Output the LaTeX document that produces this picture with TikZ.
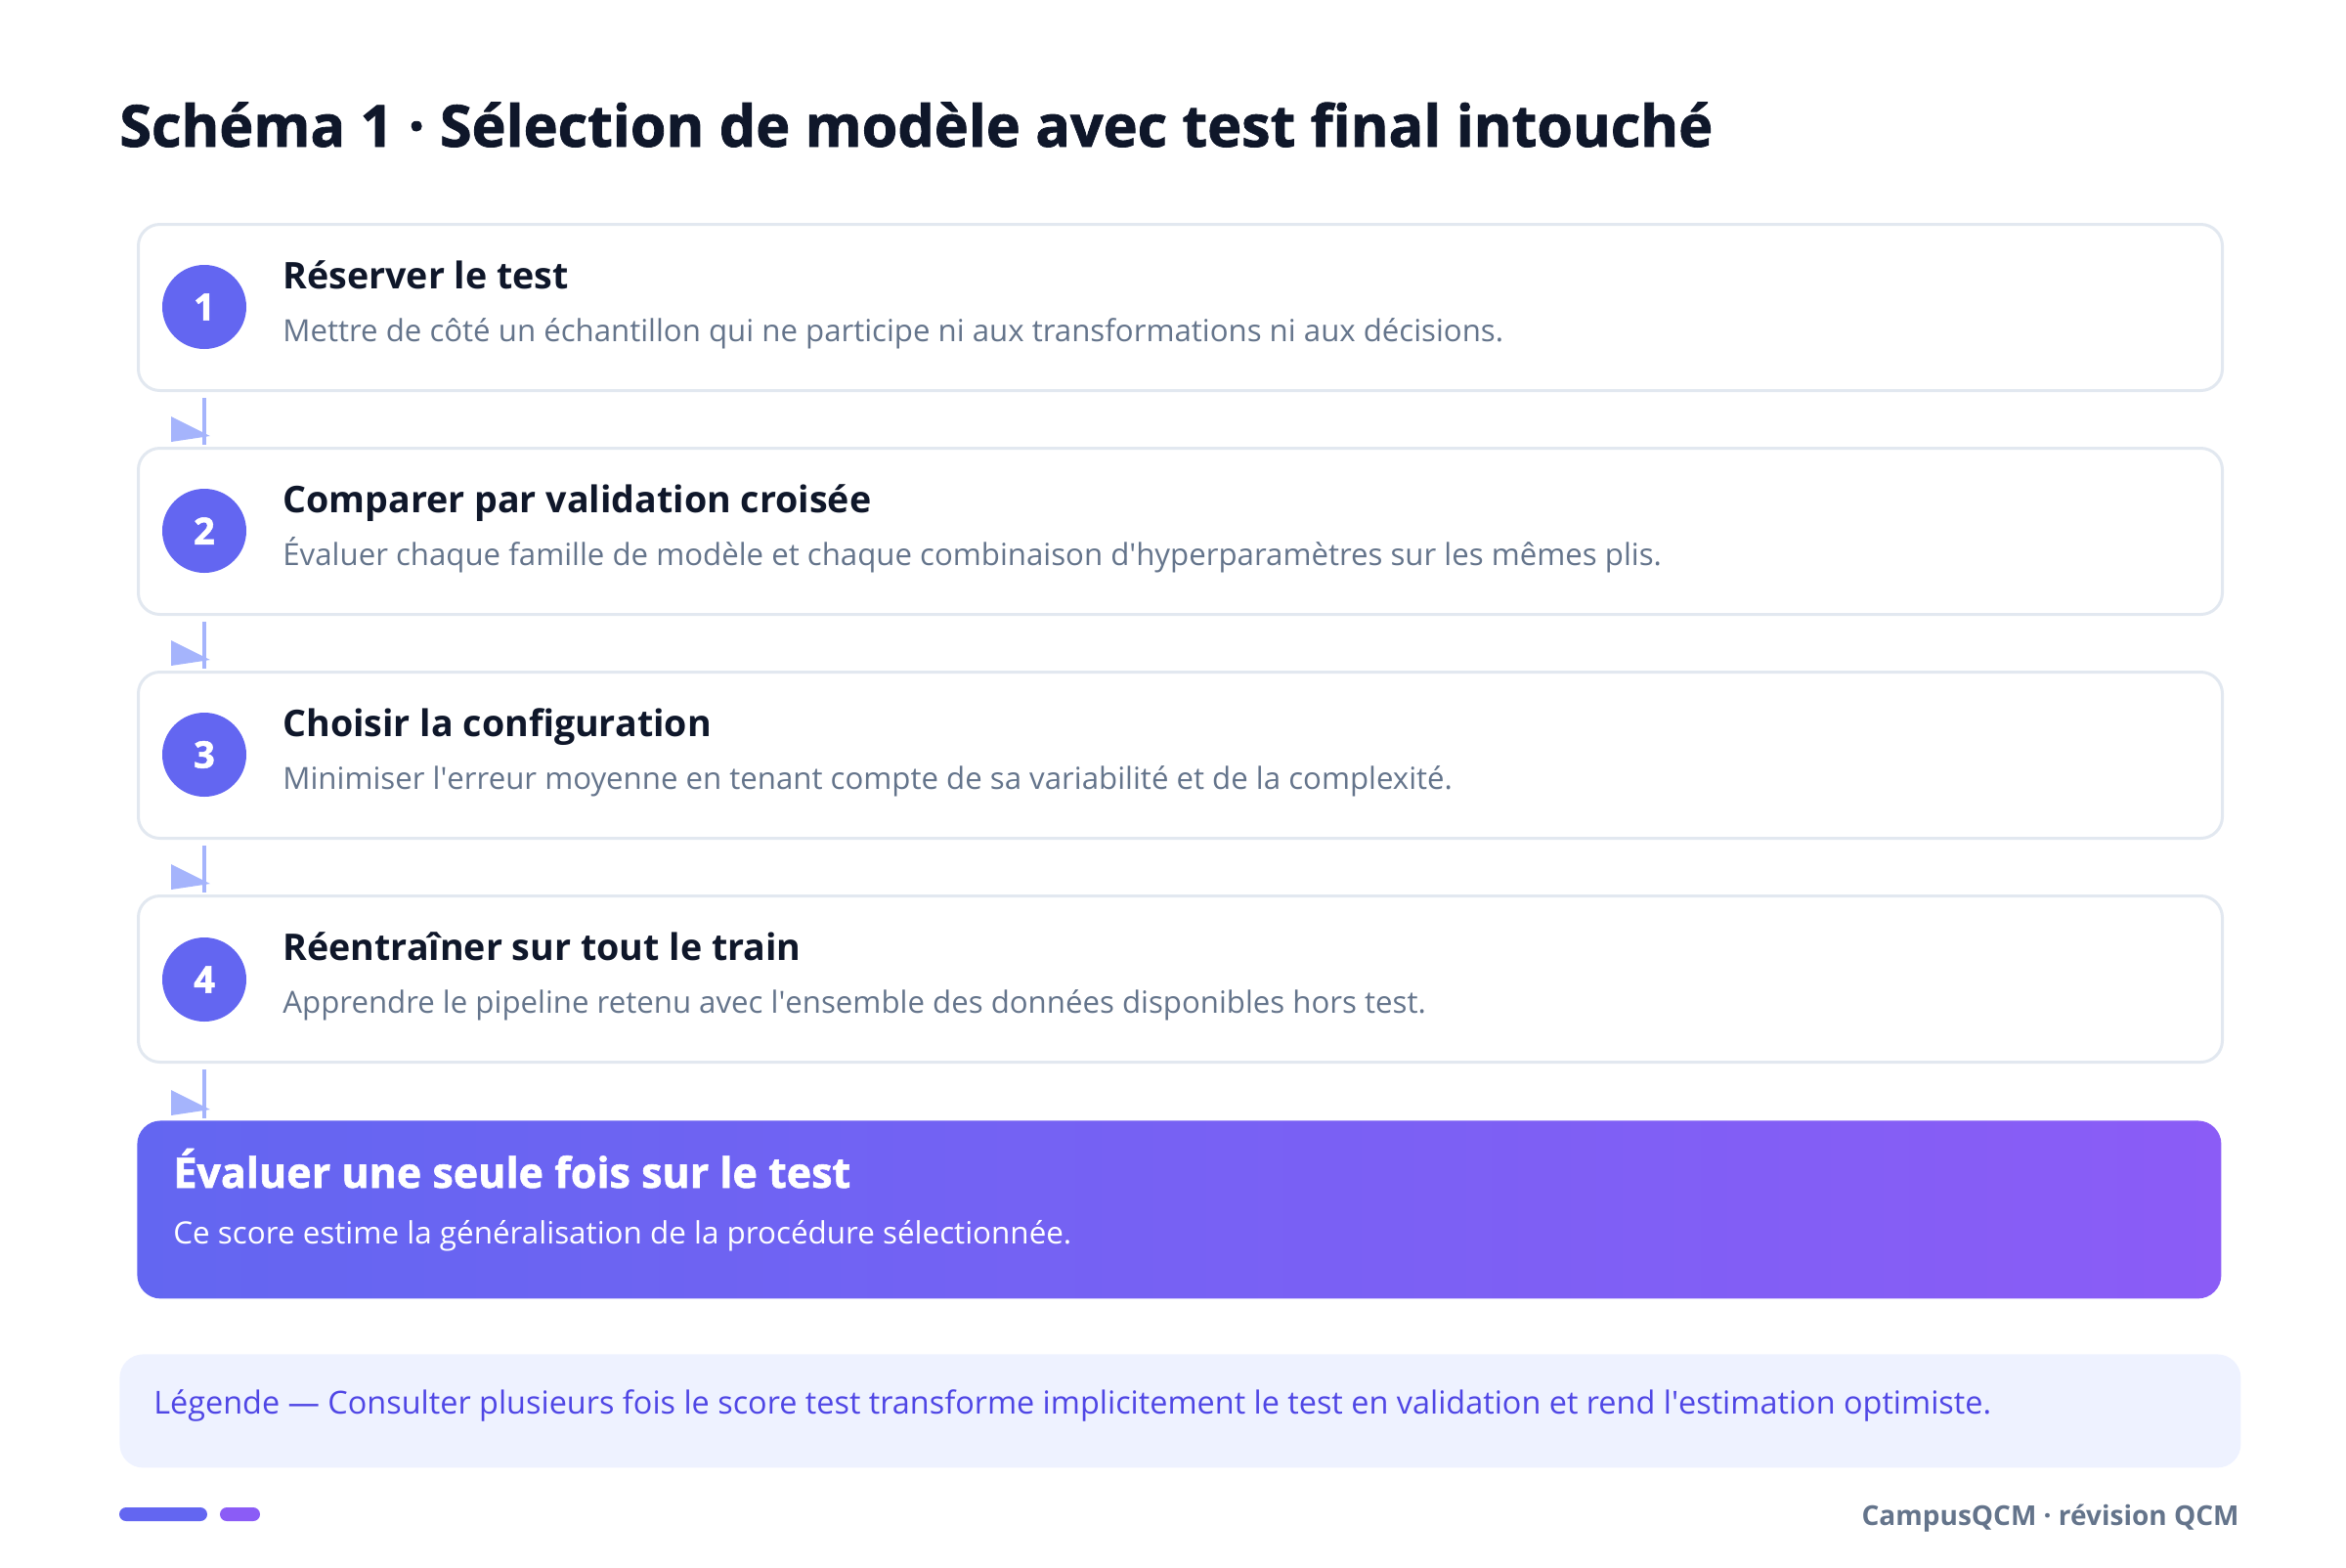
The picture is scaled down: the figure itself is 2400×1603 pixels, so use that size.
\documentclass[tikz,border=0pt]{standalone}
\usepackage{fontspec}
\setmainfont{Open Sans}
\newcommand{\heavyfont}{\bfseries\addfontfeature{FakeBold=1.4}}
\usepackage{tikz}
\usetikzlibrary{positioning, calc, shapes}

\definecolor{inkdark}{HTML}{0F172A}
\definecolor{inkgrey}{HTML}{64748B}
\definecolor{boxline}{HTML}{E2E8F0}
\definecolor{indigo}{HTML}{6366F1}
\definecolor{violet}{HTML}{8B5CF6}
\definecolor{arrowblue}{HTML}{A5B4FC}
\definecolor{legendbg}{HTML}{EEF2FF}
\definecolor{legendink}{HTML}{4F46E5}

\tikzset{
	every node/.style={
		align=left,
		inner sep=0pt,
	},
	stepbox/.style={draw=boxline, line width=1.5pt, fill=white, rounded corners=11pt,
		minimum width=1066pt, minimum height=85pt, anchor=north west},
	numdot/.style={circle, fill=indigo, minimum size=43pt, text=white, font=\fontsize{19}{19}\selectfont\heavyfont},
	heading/.style={anchor=base west, text=inkdark, font=\bfseries\fontsize{18.8}{18.8}\selectfont},
	detail/.style={anchor=base west, text=inkgrey, font=\fontsize{15.6}{15.6}\selectfont},
	flowline/.style={draw=arrowblue, line width=2.2pt},
	flowtip/.style={fill=arrowblue},
}

\begin{document}
\begin{tikzpicture}[x=0.5pt, y=-0.5pt]
	\useasboundingbox (0,0) rectangle (2400,1603);
	
	\node[anchor=base west, text=inkdark, font=\fontsize{29.6}{29.6}\selectfont\heavyfont] (title) at (122,150) {Schéma 1 · Sélection de modèle avec test final intouché};
	
	% the four steps
	\node[stepbox] (box1) at (140,228) {};
	\node[stepbox] (box2) at (140,457) {};
	\node[stepbox] (box3) at (140,686) {};
	\node[stepbox] (box4) at (140,915) {};
	
	\node[numdot] (num1) at (209,314) {1};
	\node[numdot] (num2) at (209,543) {2};
	\node[numdot] (num3) at (209,772) {3};
	\node[numdot] (num4) at (209,1002) {4};
	
	\node[heading] (head1) at ($(box1.north west)+(149,67)$) {Réserver le test};
	\node[detail] (text1) at ($(box1.north west)+(149,121)$) {Mettre de côté un échantillon qui ne participe ni aux transformations ni aux décisions.};
	\node[heading] (head2) at ($(box2.north west)+(149,67)$) {Comparer par validation croisée};
	\node[detail] (text2) at ($(box2.north west)+(149,121)$) {Évaluer chaque famille de modèle et chaque combinaison d\textquotesingle hyperparamètres sur les mêmes plis.};
	\node[heading] (head3) at ($(box3.north west)+(149,67)$) {Choisir la configuration};
	\node[detail] (text3) at ($(box3.north west)+(149,121)$) {Minimiser l\textquotesingle erreur moyenne en tenant compte de sa variabilité et de la complexité.};
	\node[heading] (head4) at ($(box4.north west)+(149,67)$) {Réentraîner sur tout le train};
	\node[detail] (text4) at ($(box4.north west)+(149,121)$) {Apprendre le pipeline retenu avec l\textquotesingle ensemble des données disponibles hors test.};
	
	% final evaluation
	\node[anchor=north west, rounded corners=12pt, minimum width=1066pt, minimum height=91pt,
		left color=indigo, right color=violet] (evalbox) at (140,1146) {};
	\node[anchor=base west, text=white, font=\fontsize{21.5}{21.5}\selectfont\heavyfont] (evalhead) at ($(evalbox.north west)+(37,69)$) {Évaluer une seule fois sur le test};
	\node[anchor=base west, text=white, font=\fontsize{15.7}{15.7}\selectfont] (evaltext) at ($(evalbox.north west)+(37,126)$) {Ce score estime la généralisation de la procédure sélectionnée.};
	
	% connectors
	\draw[flowline] ([yshift=-3pt]box1.south -| num1.center) -- ([yshift=1pt]box2.north -| num1.center) coordinate (tip1);
	\draw[flowline] ([yshift=-3pt]box2.south -| num1.center) -- ([yshift=1pt]box3.north -| num1.center) coordinate (tip2);
	\draw[flowline] ([yshift=-3pt]box3.south -| num1.center) -- ([yshift=1pt]box4.north -| num1.center) coordinate (tip3);
	\draw[flowline] ([yshift=-3pt]box4.south -| num1.center) -- ([yshift=1pt]evalbox.north -| num1.center) coordinate (tip4);
	\fill[flowtip] ($(tip1)+(-34,-29)$) -- ++(0,26) -- ($(tip1)+(6,-9)$) -- cycle;
	\fill[flowtip] ($(tip2)+(-34,-29)$) -- ++(0,26) -- ($(tip2)+(6,-9)$) -- cycle;
	\fill[flowtip] ($(tip3)+(-34,-29)$) -- ++(0,26) -- ($(tip3)+(6,-9)$) -- cycle;
	\fill[flowtip] ($(tip4)+(-34,-29)$) -- ++(0,26) -- ($(tip4)+(6,-9)$) -- cycle;
	
	% legend
	\node[anchor=north west, fill=legendbg, rounded corners=12pt, minimum width=1085pt, minimum height=58pt] (legend) at (122,1385) {};
	\node[anchor=base west, text=legendink, font=\fontsize{16.2}{16.2}\selectfont] (legendtext) at ($(legend.north west)+(35,61)$) {Légende — Consulter plusieurs fois le score test transforme implicitement le test en validation et rend l\textquotesingle estimation optimiste.};
	
	% footer
	\fill[indigo, rounded corners=3.5pt] (122,1542) rectangle (212,1556);
	\fill[violet, rounded corners=3.5pt] (225,1542) rectangle (266,1556);
	\node[anchor=base east, text=inkgrey, font=\bfseries\fontsize{14}{14}\selectfont] (footer) at (2291,1560) {CampusQCM · révision QCM};
\end{tikzpicture}
\end{document}
